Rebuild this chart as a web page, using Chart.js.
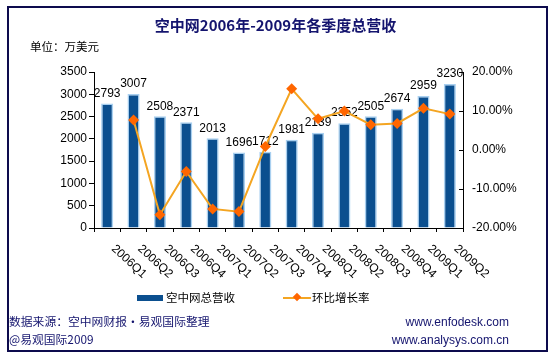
<!DOCTYPE html>
<html><head><meta charset="utf-8">
<script src="https://cdn.jsdelivr.net/npm/chart.js@4/dist/chart.umd.min.js"></script>
<style>
html,body{margin:0;padding:0;background:#fff;overflow:hidden;}
#wrap{position:relative;width:551px;height:357px;}
#frame{position:absolute;left:7px;top:6px;width:537px;height:342px;border:2px solid #0d0b4d;}
canvas{position:absolute;left:0;top:0;}
.t{position:absolute;white-space:nowrap;font-family:"Noto Sans CJK SC",sans-serif;line-height:1;}
#title{left:0;width:551px;text-align:center;top:17px;font-size:15px;font-weight:bold;color:#14146e;}
#unit{left:30px;top:41px;font-size:11.5px;color:#000;}
#src{left:9px;top:315px;font-size:11.8px;color:#14146e;}
#copy{left:9px;top:333px;font-size:11.8px;color:#14146e;}
.url{right:42px;font-family:"Liberation Sans",Arial,sans-serif;font-size:12px;color:#14146e;}
#u1{top:316px;} #u2{top:334px;}
.leg{top:292px;font-size:11.5px;color:#000;}
#sw1{position:absolute;left:137px;top:295px;width:26px;height:6px;background:#0B4F8F;}
#sw2{position:absolute;left:283px;top:297px;width:28px;height:2px;background:#F4A522;}
#dm{position:absolute;left:294px;top:294px;width:6px;height:6px;background:#FF6600;transform:rotate(45deg);}
</style></head>
<body><div id="wrap">
<canvas id="c" width="551" height="357"></canvas>
<div id="frame"></div>
<div class="t" id="title">空中网2006年-2009年各季度总营收</div>
<div class="t" id="unit">单位：万美元</div>
<div id="sw1"></div><div class="t leg" style="left:166px">空中网总营收</div>
<div id="sw2"></div><div id="dm"></div><div class="t leg" style="left:312px">环比增长率</div>
<div class="t" id="src">数据来源：空中网财报·易观国际整理</div>
<div class="t" id="copy">@易观国际2009</div>
<div class="t url" id="u1">www.enfodesk.com</div>
<div class="t url" id="u2">www.analysys.com.cn</div>
</div>
<script>
const categories = ["2006Q1","2006Q2","2006Q3","2006Q4","2007Q1","2007Q2","2007Q3","2007Q4","2008Q1","2008Q2","2008Q3","2008Q4","2009Q1","2009Q2"];
const revenue = [2793,3007,2508,2371,2013,1696,1712,1981,2139,2352,2505,2674,2959,3230];
const growthPct = [null,7.7,-16.6,-5.5,-15.1,-15.8,0.9,15.7,8.0,10.0,6.5,6.8,10.7,9.2];
const leftTicks = [0,500,1000,1500,2000,2500,3000,3500];
const rightTicks = [-20,-10,0,10,20];

const FONT = "'Liberation Sans', Arial, sans-serif";

const labelPlugin = {
  id: 'labels',
  afterDatasetDraw(chart, args) {
    if (args.index !== 0) return;
    const ctx = chart.ctx;
    const meta = chart.getDatasetMeta(0);
    ctx.save();
    ctx.font = "12px " + FONT;
    ctx.fillStyle = "#000";
    ctx.textAlign = "center";
    ctx.textBaseline = "bottom";
    meta.data.forEach((bar, i) => {
      ctx.fillText(String(revenue[i]), bar.x, bar.y - 4);
    });
    ctx.restore();
  },
  afterDraw(chart) {
    const ctx = chart.ctx;
    const xs = chart.scales.x;
    const yr = chart.scales.y1;
    ctx.save();
    ctx.strokeStyle = '#000';
    ctx.lineWidth = 1;
    rightTicks.forEach(v => {
      const y = Math.round(yr.getPixelForValue(v)) + 0.5;
      ctx.beginPath();
      ctx.moveTo(yr.left - 4, y);
      ctx.lineTo(yr.left, y);
      ctx.stroke();
    });
    ctx.font = "12px " + FONT;
    ctx.fillStyle = "#000";
    ctx.textAlign = "left";
    ctx.textBaseline = "top";
    categories.forEach((c, i) => {
      const x = xs.getPixelForTick(i);
      ctx.save();
      ctx.translate(x + 6, xs.top + 19);
      ctx.rotate(Math.PI / 4 * 0.95);
      ctx.fillText(c, 0, -6);
      ctx.restore();
    });
    ctx.restore();
  }
};

new Chart(document.getElementById('c'), {
  data: {
    labels: categories,
    datasets: [
      {
        type: 'bar', label: '空中网总营收', data: revenue, yAxisID: 'y', order: 2,
        backgroundColor: '#0B4F8F', borderColor: '#A9D0F0',
        borderWidth: {left: 1.5, right: 1.5, top: 1.5, bottom: 0}, borderSkipped: 'bottom',
        barPercentage: 0.46, categoryPercentage: 1.0
      },
      {
        type: 'line', label: '环比增长率', data: growthPct, yAxisID: 'y1', order: 1,
        borderColor: '#F4A522', borderWidth: 2, tension: 0,
        pointStyle: 'rectRot', pointRadius: 5.5, pointBackgroundColor: '#FF6600',
        pointBorderColor: '#FF6600', pointBorderWidth: 0, spanGaps: false
      }
    ]
  },
  options: {
    responsive: false, animation: false, devicePixelRatio: 1,
    layout: {padding: {left: 0, right: 0, top: 72, bottom: 0}},
    plugins: {legend: {display: false}, tooltip: {enabled: false}, title: {display: false}},
    scales: {
      x: {
        offset: true,
        grid: {display: true, offset: true, drawOnChartArea: false, drawTicks: true, tickLength: 4, color: '#000', lineWidth: 1},
        border: {display: true, color: '#000', width: 1},
        ticks: {display: false},
        afterFit(s) { s.height = 129; }
      },
      y: {
        position: 'left', min: 0, max: 3500,
        afterBuildTicks(s) { s.ticks = leftTicks.map(v => ({value: v})); },
        grid: {drawOnChartArea: false, drawTicks: true, tickLength: 5, color: '#000'},
        border: {display: true, color: '#000', width: 1},
        ticks: {font: {family: FONT, size: 12}, color: '#000', padding: 2,
          callback: v => String(v)},
        afterFit(s) { s.width = 94; }
      },
      y1: {
        position: 'right', min: -20, max: 20,
        afterBuildTicks(s) { s.ticks = rightTicks.map(v => ({value: v})); },
        grid: {drawOnChartArea: false, drawTicks: false, color: '#000'},
        border: {display: true, color: '#000', width: 1},
        ticks: {font: {family: FONT, size: 12}, color: '#000', padding: 9,
          callback: v => v.toFixed(2) + '%'},
        afterFit(s) { s.width = 88; }
      }
    }
  },
  plugins: [labelPlugin]
});
</script>
</body></html>
